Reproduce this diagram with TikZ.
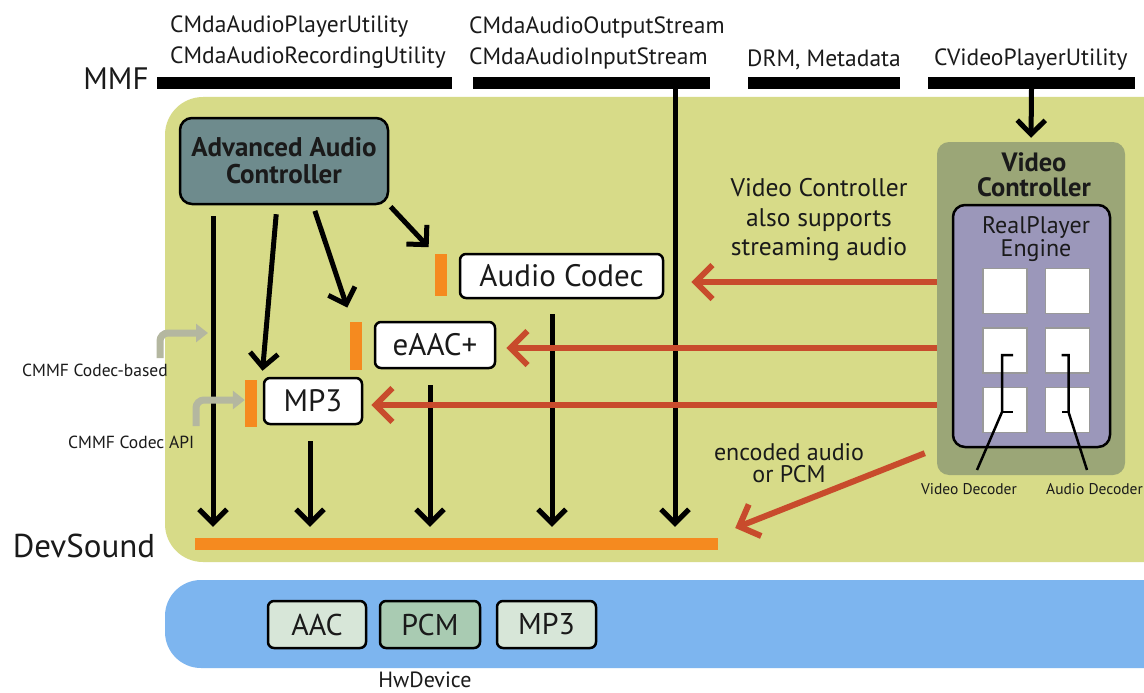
\documentclass[tikz,border=0pt]{standalone}
\usepackage{fontspec}
\setmainfont{PT Sans}
\usetikzlibrary{arrows.meta,calc}
\definecolor{txt}{HTML}{1A1A1A}
\definecolor{panelg}{HTML}{D7DB88}
\definecolor{aacc}{HTML}{6E8B8D}
\definecolor{vcol}{HTML}{9BA677}
\definecolor{rpcol}{HTML}{9B97BA}
\definecolor{orng}{HTML}{F58A1F}
\definecolor{redc}{HTML}{C84B2C}
\definecolor{bluep}{HTML}{7DB5EF}
\definecolor{hwl}{HTML}{D7E6D8}
\definecolor{hwd}{HTML}{A9CBB2}
\definecolor{greyarr}{HTML}{B4B7A0}
\begin{document}
\begin{tikzpicture}[x=1pt,y=-1pt,
  lbl/.style={font=\fontsize{23.5}{26}\selectfont, inner sep=0pt, text=txt},
  bigl/.style={font=\fontsize{31}{34}\selectfont, inner sep=0pt, text=txt},
  small/.style={font=\fontsize{17.5}{19}\selectfont, inner sep=0pt, text=txt},
  tiny/.style={font=\fontsize{15.5}{17}\selectfont, inner sep=0pt, text=txt},
  bar/.style={fill=black, inner sep=0pt, minimum height=12pt},
  codec/.style={draw=black, line width=2.5pt, fill=white, rounded corners=6pt, inner sep=0pt, font=\fontsize{31}{33}\selectfont, text=txt},
  obar/.style={fill=orng, inner sep=0pt, minimum width=12pt},
  blk/.style={line width=5pt, -{Straight Barb[length=14pt,width=28pt]}},
  redarr/.style={draw=redc, line width=6pt, -{Straight Barb[length=17pt,width=34pt]}},
  hw/.style={draw=black, line width=2.5pt, rounded corners=6pt, inner sep=0pt, minimum height=47pt, font=\fontsize{30}{32}\selectfont, text=txt},
  sq/.style={fill=white, draw=gray!80, line width=1.5pt, minimum width=44pt, minimum height=45pt, inner sep=0pt},
  grey/.style={draw=greyarr, line width=7pt, rounded corners=8pt, -{Triangle[length=12pt,width=18pt]}},
  dec/.style={line width=2.5pt}
]
\clip (0,0) rectangle (1144,693);
\fill[white] (0,0) rectangle (1144,693);

% panels
\fill[panelg, rounded corners=38pt] (165,97) rectangle (1200,562);
\fill[bluep, rounded corners=36pt] (165,580) rectangle (1200,668);

% top labels
\node[bigl] (mmf) at (116,79) {MMF};
\node[lbl,anchor=west] (u1) at (170,27) {CMdaAudioPlayerUtility};
\node[lbl,anchor=west] (u2) at (170,58) {CMdaAudioRecordingUtility};
\node[lbl,anchor=west] (s1) at (469,27) {CMdaAudioOutputStream};
\node[lbl,anchor=west] (s2) at (469,58) {CMdaAudioInputStream};
\node[lbl,anchor=west] (drm) at (747,60) {DRM, Metadata};
\node[lbl,anchor=west] (cv) at (934,60) {CVideoPlayerUtility};

% bars
\node[bar, minimum width=295pt] (b1) at (304.5,83) {};
\node[bar, minimum width=237pt] (b2) at (591.5,83) {};
\node[bar, minimum width=152pt] (b3) at (824,83) {};
\node[bar, minimum width=207pt] (b4) at (1031.5,83) {};

% Advanced audio controller
\node[draw=black, line width=2.5pt, fill=aacc, rounded corners=12pt, minimum width=208pt, minimum height=86pt, inner sep=0pt,
      font=\bfseries\fontsize{27}{27}\selectfont, text=txt, align=center] (aac) at (284,161) {Advanced Audio\\Controller};

% codecs
\node[codec, minimum width=203pt, minimum height=44pt] (codec) at (561.5,276) {Audio Codec};
\node[codec, minimum width=120pt, minimum height=46pt] (eaac) at (435,345) {eAAC+};
\node[codec, minimum width=98pt, minimum height=46pt] (mp3) at (313,401) {MP3};
\node[obar, minimum height=42pt] (ob1) at (441,275) {};
\node[obar, minimum height=48pt] (ob2) at (356,346) {};
\node[obar, minimum height=47pt] (ob3) at (251,403.5) {};

% DevSound
\node[fill=orng, inner sep=0pt, minimum width=523pt, minimum height=12pt] (ds) at (456.5,544) {};
\node[font=\fontsize{33}{35}\selectfont, inner sep=0pt, text=txt] (dsl) at (84,546) {DevSound};

% black arrows
\draw[blk, shorten <=11pt, shorten >=11pt] ([xshift=-71pt]aac.south) -- ([xshift=-243.5pt]ds.north);
\draw[blk, shorten <=9pt, shorten >=6pt] ([xshift=-7pt]aac.south) -- ([xshift=-51pt]mp3.north);
\draw[blk, shorten <=6pt, shorten >=15pt] ([xshift=29pt]aac.south) -- ([xshift=-4pt]ob2.north);
\draw[blk, shorten <=2pt, shorten >=9pt] (aac.south east) -- (ob1.north west);
\draw[blk, shorten <=16pt, shorten >=11pt] ([xshift=-3pt]mp3.south) -- ([xshift=-146.5pt]ds.north);
\draw[blk, shorten <=16pt, shorten >=11pt] ([xshift=-5pt]eaac.south) -- ([xshift=-26.5pt]ds.north);
\draw[blk, shorten <=15pt, shorten >=11pt] ([xshift=-9.5pt]codec.south) -- ([xshift=95.5pt]ds.north);
\draw[blk, shorten >=11pt] ([xshift=83.5pt]b2.south) -- ([xshift=218.5pt]ds.north);

% Video controller
\node[fill=vcol, rounded corners=12pt, minimum width=188pt, minimum height=333pt, inner sep=0pt] (vc) at (1031,308.5) {};
\node[font=\bfseries\fontsize{26.5}{25}\selectfont, text=txt, align=center, inner sep=0pt] (vct) at (1034,175) {Video\\Controller};
\node[draw=black, line width=2.5pt, fill=rpcol, rounded corners=12pt, minimum width=157pt, minimum height=242pt, inner sep=0pt] (rp) at (1031.5,326) {};
\node[font=\fontsize{24}{23}\selectfont, text=txt, align=center, inner sep=0pt] (rpt) at (1036,239) {RealPlayer\\Engine};
\node[sq] (sq11) at (1005,291) {};
\node[sq] (sq12) at (1067.5,291) {};
\node[sq] (sq21) at (1005,350.5) {};
\node[sq] (sq22) at (1067.5,350.5) {};
\node[sq] (sq31) at (1005,410) {};
\node[sq] (sq32) at (1067.5,410) {};
\draw[blk, shorten >=4pt] (b4.south) -- (vc.north);

\node[tiny] (vd) at (969,489) {Video Decoder};
\node[tiny, anchor=east] (ad) at (1143,489) {Audio Decoder};
\coordinate (vdt) at (977,470);
\coordinate (adt) at (1087,470);
\draw[dec] ($(sq21)+(8,4.5)$) -- ($(sq21)+(-3,4.5)$) -- ($(sq31)+(-3,2)$) -- (vdt);
\draw[dec] ($(sq31)+(-3,2)$) -- ($(sq31)+(8,2)$);
\draw[dec] ($(sq22)+(-6,4.5)$) -- ($(sq22)+(1,4.5)$) -- ($(sq32)+(1,2)$) -- (adt);
\draw[dec] ($(sq32)+(1,2)$) -- ($(sq32)+(-6,2)$);

% red arrows
\draw[redarr] ([yshift=-6pt]codec.east -| vc.west) -- ([xshift=27pt,yshift=-6pt]codec.east);
\draw[redarr] ([yshift=-3pt]eaac.east -| vc.west) -- ([xshift=10pt,yshift=-3pt]eaac.east);
\draw[redarr] ([yshift=-4pt]mp3.east -| vc.west) -- ([xshift=8pt,yshift=-4pt]mp3.east);
\draw[redarr] ([xshift=-12pt,yshift=22pt]vc.south west) -- ([xshift=17pt,yshift=16pt]ds.east);

\node[font=\fontsize{25.5}{29.5}\selectfont, text=txt, align=center, inner sep=0pt] (vcs) at (819,220) {Video Controller\\also supports\\streaming audio};
\node[font=\fontsize{24}{22}\selectfont, text=txt, align=center, inner sep=0pt] (enc) at (789,463) {encoded audio\\or PCM};

% CMMF labels
\node[small, anchor=west] (cb) at (22,370) {CMMF Codec-based};
\node[small, anchor=west] (api) at (68,442) {CMMF Codec API};
\coordinate (cbtip) at (208,333);
\draw[grey] (160,358) -- (160,333) -- (cbtip);
\draw[grey] (196,426) -- (196,400) -- (ob3.west |- 0,400);

% HwDevice
\node[hw, fill=hwl, minimum width=98pt] (hwaac) at (317,624.5) {AAC};
\node[hw, fill=hwd, minimum width=100pt] (hwpcm) at (430,624.5) {PCM};
\node[hw, fill=hwl, minimum width=99pt] (hwmp3) at (546.5,624.5) {MP3};
\node[font=\fontsize{22}{24}\selectfont, text=txt, inner sep=0pt] (hwd) at (425,680) {HwDevice};
\end{tikzpicture}
\end{document}
